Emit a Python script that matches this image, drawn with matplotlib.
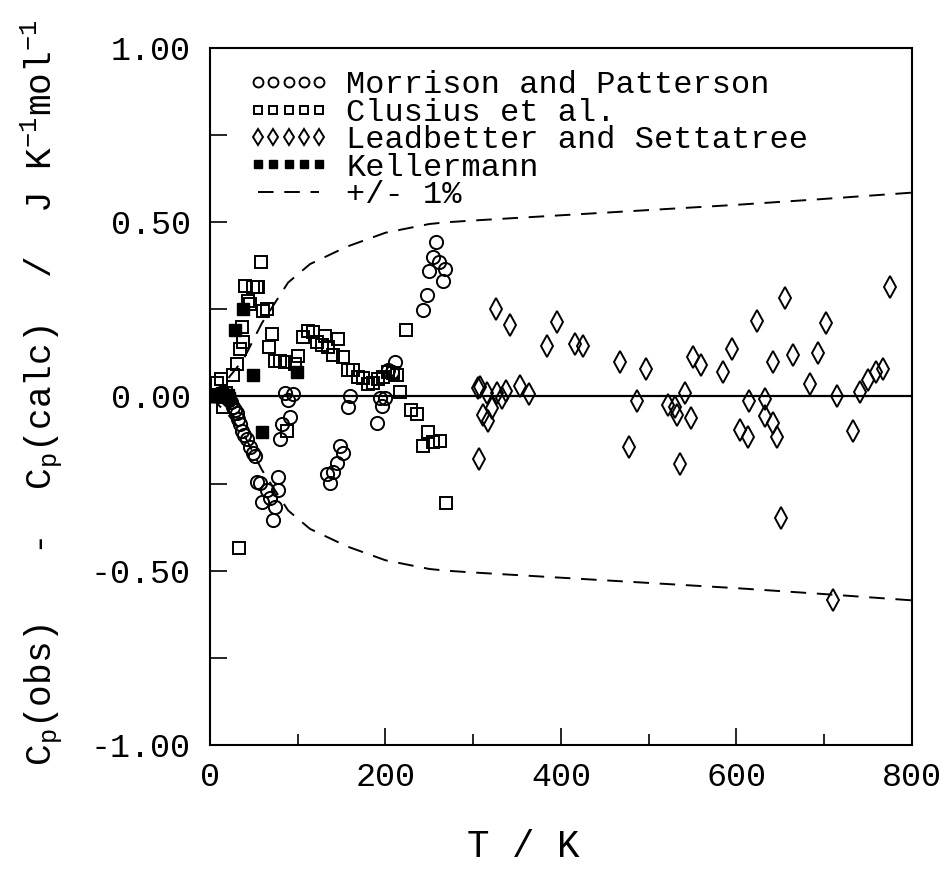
import numpy as np
import matplotlib
matplotlib.use("Agg")
import matplotlib.pyplot as plt
from matplotlib.ticker import MultipleLocator, FuncFormatter

# Morrison and Patterson (circles)
mp_T = [10, 13, 16, 19, 22, 24, 26, 28, 31, 32, 34, 36.5, 39, 42, 45.6, 49, 51,
        53.5, 57, 59, 65, 68, 71.8, 74, 77.5, 77.5,
        85.5, 89, 94.6, 91, 82, 80,
        133, 136.8, 140, 144.7, 148, 151.6,
        159.5, 157, 190, 193.7, 199, 196, 203, 207, 211,
        242.7, 247, 249.6, 254, 257.5, 261, 265.5, 268]
mp_dC = [0.0, 0.005, 0.0, -0.005, -0.01, -0.015, -0.029, -0.04, -0.046, -0.066, -0.08, -0.10, -0.11, -0.123, -0.146, -0.161, -0.172,
         -0.244, -0.247, -0.304, -0.267, -0.29, -0.353, -0.316, -0.23, -0.267,
         0.011, -0.009, 0.006, -0.06, -0.08, -0.123,
         -0.221, -0.247, -0.218, -0.192, -0.143, -0.161,
         0.0, -0.03, -0.075, -0.003, -0.003, -0.026, 0.077, 0.069, 0.10,
         0.247, 0.29, 0.359, 0.40, 0.442, 0.387, 0.33, 0.367]

# Clusius et al. (open squares)
cl_T = [8, 12, 15, 18, 26, 30.8, 34, 37.6, 36.5, 43, 45.6, 40, 49, 53.5, 55, 58, 60.4, 65,
        33, 88, 67, 70.6, 74, 80, 85.5, 97, 100, 106, 111.7, 117, 122, 127.6, 131, 134.5,
        140, 146, 151.6, 157, 163, 168.6, 174, 180, 186, 191, 197, 203, 208.5, 213,
        216.5, 223, 229, 236, 242.7, 248.4, 254, 262, 269]
cl_dC = [0.04, 0.05, -0.029, 0.01, 0.063, 0.092, 0.135, 0.155, 0.2, 0.273, 0.264, 0.316, 0.313, 0.313, 0.315, 0.385, 0.244, 0.252,
         -0.436, -0.10, 0.143, 0.178, 0.103, 0.103, 0.10, 0.092, 0.115, 0.172, 0.187, 0.184, 0.155, 0.149, 0.175, 0.143,
         0.12, 0.166, 0.112, 0.077, 0.077, 0.057, 0.054, 0.037, 0.040, 0.049, 0.057, 0.069, 0.066, 0.063,
         0.014, 0.192, -0.04, -0.049, -0.143, -0.103, -0.132, -0.129, -0.307]

# Leadbetter and Settatree (diamonds)
ls_T = [305, 306.6, 307.7, 311, 315.6, 316.8, 321, 326, 327, 333, 337, 342, 353, 363.5,
        384, 395.4, 416, 425, 467, 477.5, 486.6, 497, 522, 530, 532, 535.6, 541, 548,
        550, 559.5, 584.6, 595, 604, 613, 614, 623, 632.5, 632.5, 641.6, 641.6, 646,
        650.7, 655, 664, 683.8, 693, 702, 710, 714.5, 732.8, 740.7, 750, 759, 767, 775]
ls_dC = [0.023, -0.178, 0.026, -0.052, 0.009, -0.069, -0.034, 0.252, 0.011, -0.003, 0.017, 0.204, 0.029, 0.006,
         0.144, 0.215, 0.152, 0.144, 0.10, -0.146, -0.014, 0.08, -0.023, -0.029, -0.052, -0.195, 0.009, -0.063,
         0.112, 0.089, 0.069, 0.135, -0.095, -0.115, -0.014, 0.218, -0.006, -0.055, -0.075, 0.10, -0.115,
         -0.35, 0.284, 0.12, 0.037, 0.126, 0.212, -0.585, 0.0, -0.10, 0.014, 0.046, 0.069, 0.08, 0.313]

# Kellermann (filled squares)
ke_T = [2, 4, 6, 8, 10, 12, 14, 16, 18, 20, 22, 28, 37.6, 49, 59, 99]
ke_dC = [0.0, 0.0, 0.002, 0.004, 0.0, 0.008, 0.01, 0.005, 0.0, 0.003, -0.005, 0.192, 0.252, 0.063, -0.103, 0.069]

# +/- 1% band
band_T = [0, 20, 38, 59, 89, 114, 156, 200, 250, 270, 300, 400, 500, 600, 700, 800]
band_v = [0, 0.05, 0.106, 0.21, 0.327, 0.38, 0.43, 0.47, 0.495, 0.50, 0.505, 0.52, 0.535, 0.55, 0.567, 0.585]

mono = "Liberation Mono"
plt.rcParams['font.family'] = [mono, 'DejaVu Sans']
plt.rcParams['mathtext.fontset'] = 'custom'
plt.rcParams['mathtext.rm'] = mono
plt.rcParams['mathtext.it'] = mono

fig = plt.figure(figsize=(9.46, 8.81), dpi=100)
ax = fig.add_axes([0.222, 0.1544, 0.742, 0.7911])

bt = np.array(band_T)
bv = np.array(band_v)
ax.axhline(0, color='black', lw=1.6, zorder=1)
ax.plot(bt, bv, color='black', lw=1.4, dashes=(8, 5.5), label='+/- 1%')
ax.plot(bt, -bv, color='black', lw=1.4, dashes=(8, 5.5))

ax.plot(mp_T, mp_dC, 'o', ms=9.5, mfc='none', mec='black', mew=1.4, ls='none',
        label='Morrison and Patterson')
ax.plot(cl_T, cl_dC, 's', ms=8, mfc='none', mec='black', mew=1.4, ls='none',
        label='Clusius et al.')
ax.plot(ls_T, ls_dC, 'd', ms=11, mfc='none', mec='black', mew=1.4, ls='none',
        label='Leadbetter and Settatree')
ax.plot(ke_T, ke_dC, 's', ms=8, mfc='black', mec='black', mew=1.0, ls='none',
        label='Kellermann')

ax.set_xlim(0, 800)
ax.set_ylim(-1, 1)
ax.xaxis.set_major_locator(MultipleLocator(200))
ax.xaxis.set_minor_locator(MultipleLocator(100))
ax.yaxis.set_major_locator(MultipleLocator(0.5))
ax.yaxis.set_minor_locator(MultipleLocator(0.25))
ax.yaxis.set_major_formatter(FuncFormatter(lambda v, p: '%.2f' % v))
ax.tick_params(axis='both', which='both', direction='in', top=False, right=False,
               labelsize=24, width=1.2)
ax.tick_params(axis='x', which='major', length=12, pad=12)
ax.tick_params(axis='x', which='minor', length=8)
ax.tick_params(axis='y', which='both', length=12, pad=14)
for s in ax.spines.values():
    s.set_linewidth(1.5)

ax.set_xlabel('T / K', fontsize=27)
ax.xaxis.set_label_coords(0.446, -0.12)
ax.set_ylabel(r'C$_\mathrm{p}$(obs)   -  C$_\mathrm{p}$(calc)  /  J K$^{-1}$mol$^{-1}$', fontsize=26)
ax.yaxis.set_label_coords(-0.208, 0.505)

h, l = ax.get_legend_handles_labels()
order = [1, 2, 3, 4, 0]
ax.legend([h[i] for i in order], [l[i] for i in order], loc='upper left',
          bbox_to_anchor=(0.055, 0.968), frameon=False, numpoints=5,
          markerscale=0.75, fontsize=23, handlelength=2.5, handletextpad=0.55,
          labelspacing=-0.08, borderpad=0, borderaxespad=0)

fig.savefig('out.png', dpi=100)
